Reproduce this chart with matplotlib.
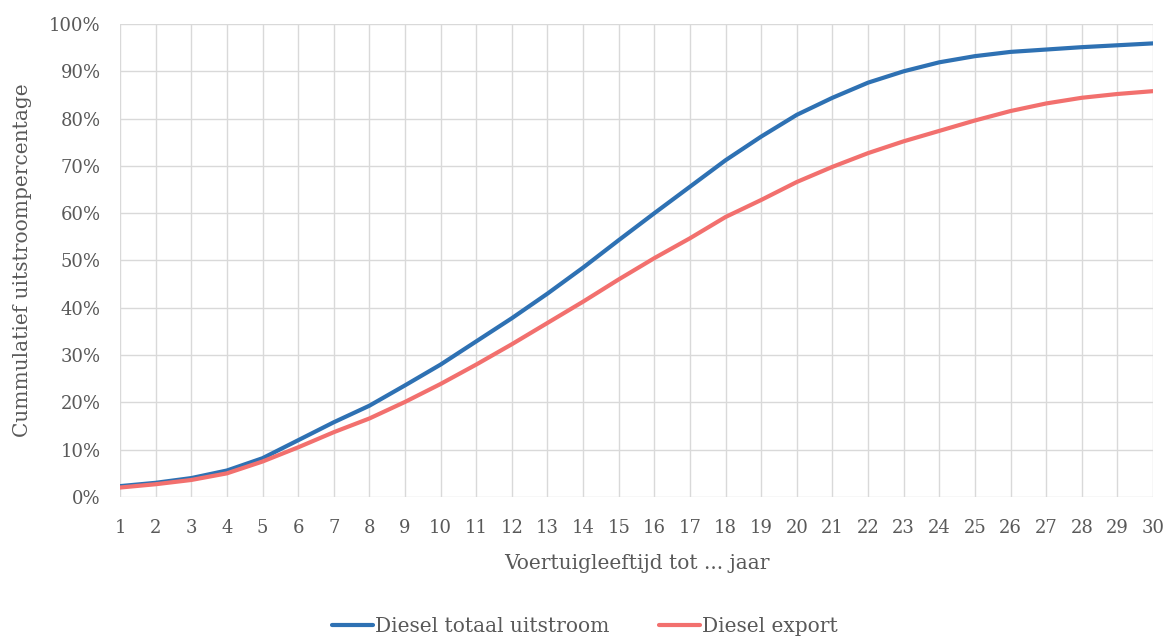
import matplotlib.pyplot as plt
from matplotlib.ticker import FuncFormatter

# data
leeftijd = list(range(1, 31))
totaal = [2.3, 3.0, 4.0, 5.6, 8.2, 12.0, 15.8, 19.3, 23.6, 28.0,
          32.9, 37.8, 43.0, 48.5, 54.3, 60.0, 65.6, 71.2, 76.2, 80.8,
          84.4, 87.6, 90.0, 91.9, 93.2, 94.1, 94.6, 95.1, 95.5, 95.9]
export = [2.0, 2.7, 3.6, 5.0, 7.5, 10.5, 13.7, 16.6, 20.1, 23.9,
          28.0, 32.3, 36.8, 41.3, 46.0, 50.5, 54.7, 59.2, 62.8, 66.6,
          69.8, 72.7, 75.2, 77.4, 79.6, 81.6, 83.2, 84.4, 85.2, 85.8]

plt.rcParams['font.family'] = ['DejaVu Serif']
txt = '#595959'

fig = plt.figure(figsize=(11.7, 6.38), dpi=100)
ax = fig.add_axes([0.1026, 0.221, 0.8829, 0.7414])

ax.plot(leeftijd, totaal, color='#2e71b3', lw=3.0, label='Diesel totaal uitstroom', solid_capstyle='round')
ax.plot(leeftijd, export, color='#f2706e', lw=3.0, label='Diesel export', solid_capstyle='round')

ax.set_xlim(1, 30)
ax.set_ylim(0, 100)
ax.set_xticks(leeftijd)
ax.set_yticks(range(0, 101, 10))
ax.yaxis.set_major_formatter(FuncFormatter(lambda v, p: f'{v:.0f}%'))
ax.grid(True, color='#d9d9d9', lw=1)
ax.set_axisbelow(True)
for s in ax.spines.values():
    s.set_visible(False)
ax.tick_params(length=0, labelsize=13, labelcolor=txt)
ax.tick_params(axis='x', pad=16)
ax.tick_params(axis='y', pad=14)

ax.set_xlabel('Voertuigleeftijd tot ... jaar', fontsize=14.5, color=txt, labelpad=12)
ax.set_ylabel('Cummulatief uitstroompercentage', fontsize=14.5, color=txt, labelpad=12)

fig.legend(loc='center', bbox_to_anchor=(0.5, 0.018), ncol=2, frameon=False,
           fontsize=14.5, labelcolor=txt, handlelength=2.0, handletextpad=0.1,
           columnspacing=2.5)

fig.savefig('out.png', dpi=100)
